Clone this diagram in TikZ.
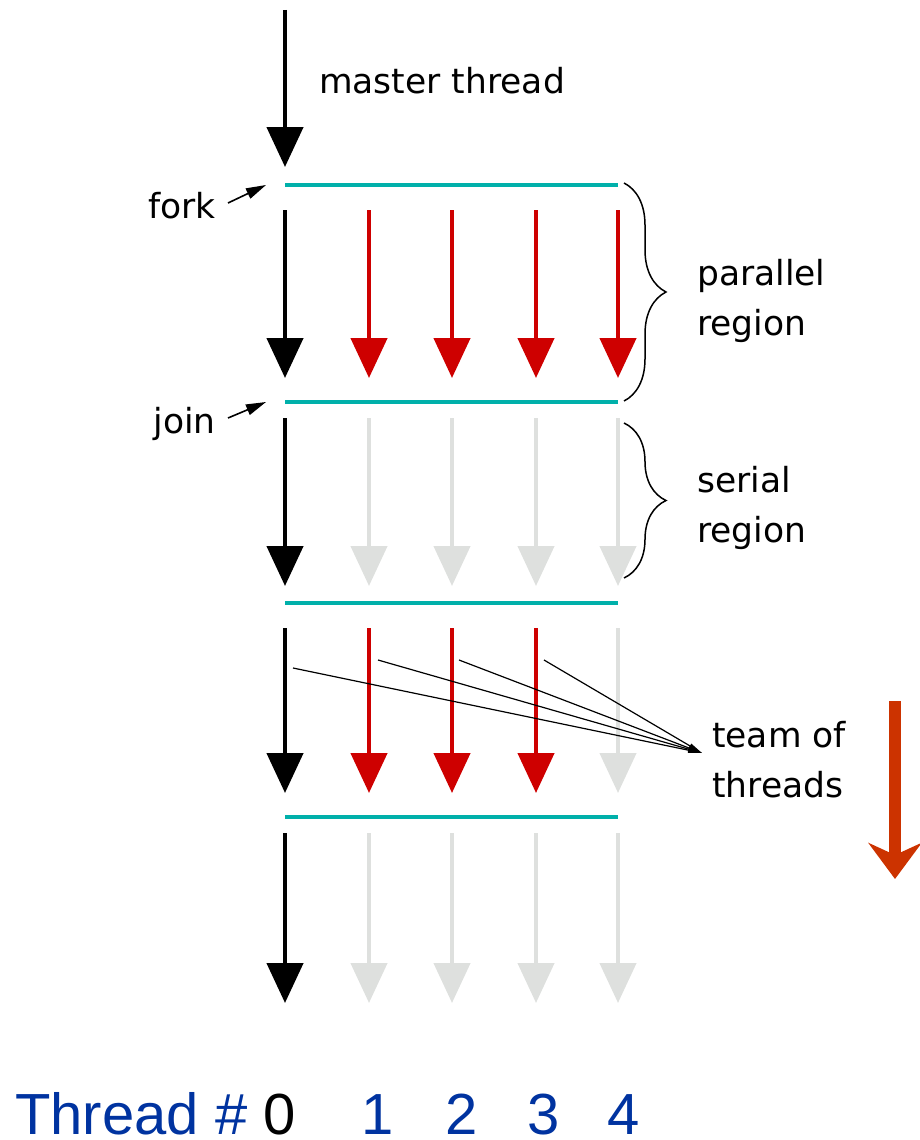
\documentclass[tikz,border=0pt]{standalone}
\usepackage{fontspec}
\setmainfont{DejaVu Sans}
\newfontfamily\numfont{Liberation Sans}
\usetikzlibrary{arrows.meta,decorations.pathreplacing}
\definecolor{forkcyan}{RGB}{0,176,170}
\definecolor{threadred}{RGB}{206,0,0}
\definecolor{idlegray}{RGB}{222,224,222}
\definecolor{timered}{RGB}{204,51,0}
\definecolor{numblue}{RGB}{0,51,160}

\begin{document}
\begin{tikzpicture}[x=1pt,y=-1pt,
    master/.style={line width=4.5pt,-{Triangle[length=40pt,width=36pt]}},
    worker/.style={master,threadred},
    idle/.style={master,idlegray},
    sync/.style={line width=4.5pt,forkcyan},
    lbl/.style={font=\fontsize{34.5}{50}\selectfont,inner sep=0pt,align=left},
    num/.style={font=\numfont\fontsize{58}{66}\selectfont,inner sep=0pt,text depth=0pt,text=numblue},
    pointer/.style={line width=1.6pt,-{Triangle[length=20pt,width=11pt]}},
    fine/.style={line width=1.2pt,-{Triangle[length=14pt,width=5pt]}},
    region/.style={line width=1.5pt,decorate,decoration={brace,amplitude=42pt}}
    ]
  \useasboundingbox (0,0) rectangle (919,1140);

  % thread segments between the sync bars
  \foreach \t/\b [count=\k] in {210/378,418/586,628/793,833/1003}
    \foreach \x [count=\i from 0] in {285,369,452,536,618}
      {\coordinate (t\k\i) at (\x,\t); \coordinate (b\k\i) at (\x,\b);}

  \coordinate (start) at (285,10);
  \coordinate (top) at (285,167);
  \draw[master] (start) -- (top);
  \foreach \k in {1,...,4} \draw[master] (t\k0) -- (b\k0);
  \foreach \i in {1,...,4} \draw[worker] (t1\i) -- (b1\i);
  \foreach \i in {1,...,4} \draw[idle] (t2\i) -- (b2\i);
  \foreach \i in {1,2,3} \draw[worker] (t3\i) -- (b3\i);
  \draw[idle] (t34) -- (b34);
  \foreach \i in {1,...,4} \draw[idle] (t4\i) -- (b4\i);

  \foreach \y [count=\j] in {185,402,603,817}
    \draw[sync] (285,\y) coordinate (l\j) -- (618,\y) coordinate (r\j);

  \node[lbl,anchor=base west] (mt) at (319,93) {master thread};
  \node[lbl,anchor=base east] (fk) at (216,218) {fork};
  \node[lbl,anchor=base east] (jn) at (216,433) {join};
  \draw[pointer] ([shift={(12pt,15pt)}]fk.base east) -- ([xshift=-19pt]l1);
  \draw[pointer] ([shift={(12pt,15pt)}]jn.base east) -- ([xshift=-19pt]l2);

  \coordinate (p1) at (624,183);
  \coordinate (p2) at (624,401);
  \coordinate (s1) at (624,423);
  \coordinate (s2) at (624,578);
  \draw[region] (p1) -- (p2);
  \draw[region] (s1) -- (s2);
  \node[lbl,anchor=west] (par) at (697,301) {parallel\\region};
  \node[lbl,anchor=west] (ser) at (697,508) {serial\\region};

  \node[lbl,anchor=west] (team) at (712,760) {team of\\threads};
  \coordinate (tp) at (702,753);
  \foreach \x/\y [count=\i from 0] in {293/668,378/660,459/660,544/660}
    \draw[fine] (\x,\y) coordinate (m\i) -- (tp);

  \coordinate (ts) at (895,701);
  \coordinate (te) at (895,879);
  \draw[timered,line width=12pt,-{Stealth[length=36pt,width=53pt,inset=12pt]}] (ts) -- (te);

  \node[num,anchor=base west] (thr) at (15,1134) {Thread \#};
  \node[num,anchor=base,text=black] (n0) at (280,1134) {0};
  \foreach \x [count=\i] in {378,462,544,624}
    \node[num,anchor=base] (n\i) at (\x,1134) {\i};
\end{tikzpicture}
\end{document}
